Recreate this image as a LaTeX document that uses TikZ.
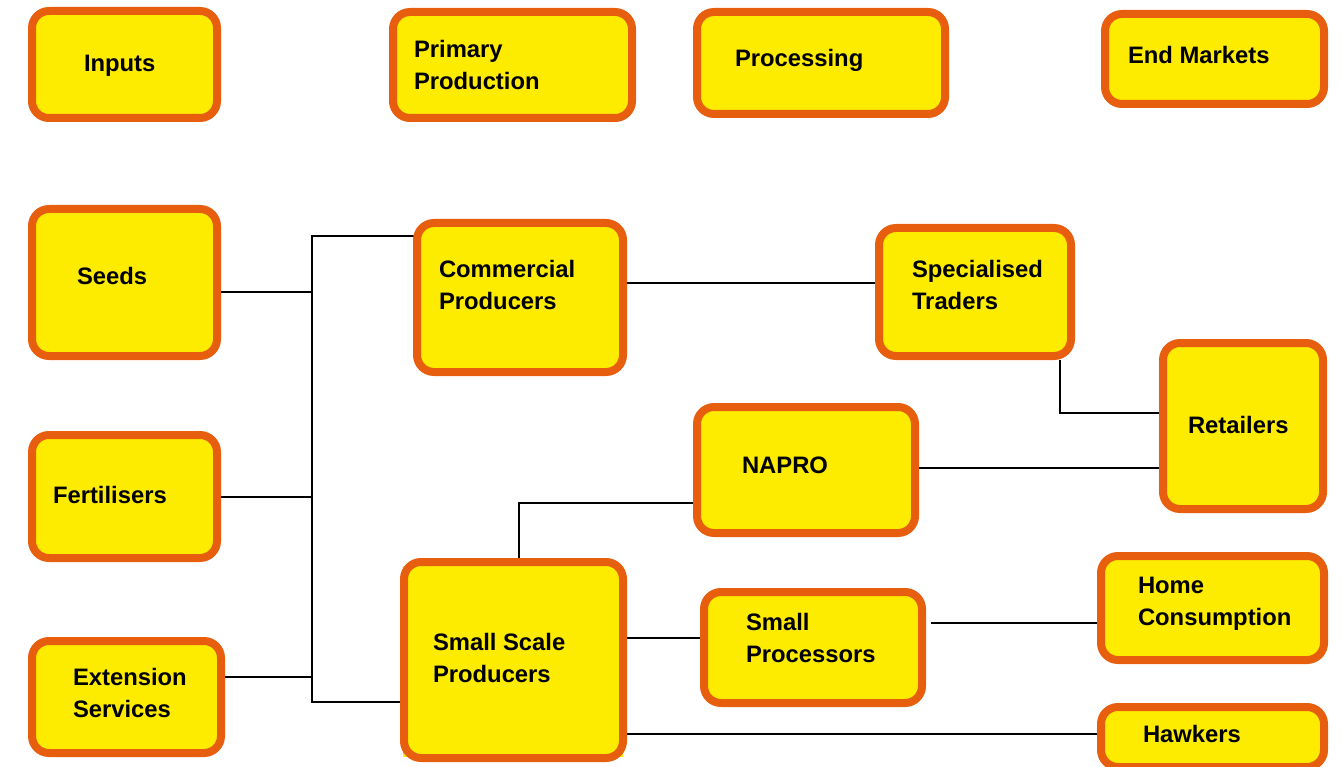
\documentclass[tikz,border=0pt]{standalone}
\usepackage{fontspec}
\setmainfont{Liberation Sans}
\usetikzlibrary{backgrounds}
\definecolor{boxfill}{RGB}{253,235,0}
\definecolor{boxline}{RGB}{232,94,15}
\begin{document}
\begin{tikzpicture}[x=1pt,y=-1pt,
  chainbox/.style={draw=boxline,fill=boxfill,line width=8pt,rounded corners=17pt,
    inner sep=0pt,outer sep=0pt},
  txt/.style={anchor=base west,inner sep=0pt,outer sep=0pt,
    font=\fontsize{23.8}{32}\selectfont\bfseries},
  link/.style={draw=black,line width=2.3pt}]
\useasboundingbox (0,0) rectangle (1341,767);

% stage headers
\node[chainbox,minimum width=185pt,minimum height=107pt] (inputs) at (124.5,64.5) {};
\node[chainbox,minimum width=239pt,minimum height=106pt] (primary) at (512.5,65) {};
\node[chainbox,minimum width=248pt,minimum height=102pt] (processing) at (821,63) {};
\node[chainbox,minimum width=219pt,minimum height=90pt] (endmk) at (1214.5,59) {};

% inputs column
\node[chainbox,minimum width=185pt,minimum height=147pt] (seeds) at (124.5,282.5) {};
\node[chainbox,minimum width=185pt,minimum height=123pt] (fert) at (124.5,496.5) {};
\node[chainbox,minimum width=189pt,minimum height=112pt] (ext) at (126.5,697) {};

% producers and downstream actors
\node[chainbox,minimum width=206pt,minimum height=149pt] (comm) at (520,297.5) {};
\node[chainbox,minimum width=192pt,minimum height=128pt] (spec) at (975,292) {};
\node[chainbox,minimum width=160pt,minimum height=166pt] (retail) at (1243,426) {};
\node[chainbox,minimum width=218pt,minimum height=126pt] (napro) at (806,470) {};
\node[chainbox,minimum width=219pt,minimum height=196pt] (ssp) at (513.5,660) {};
\node[chainbox,minimum width=218pt,minimum height=111pt] (sproc) at (813,647.5) {};
\node[chainbox,minimum width=223pt,minimum height=104pt] (home) at (1212.5,608) {};
\node[chainbox,minimum width=223pt,minimum height=60pt] (hawk) at (1212.5,737) {};

% labels
\node[txt] (inputs-t) at (84,72) {Inputs};
\node[txt] (primary-t) at (414,58) {\begin{tabular}[t]{@{}l@{}}Primary\\Production\end{tabular}};
\node[txt] (processing-t) at (735,67) {Processing};
\node[txt] (endmk-t) at (1128,64) {End Markets};
\node[txt] (seeds-t) at (77,285) {Seeds};
\node[txt] (fert-t) at (53,503) {Fertilisers};
\node[txt] (ext-t) at (73,685) {\begin{tabular}[t]{@{}l@{}}Extension\\Services\end{tabular}};
\node[txt] (comm-t) at (439,278) {\begin{tabular}[t]{@{}l@{}}Commercial\\Producers\end{tabular}};
\node[txt] (spec-t) at (912,278) {\begin{tabular}[t]{@{}l@{}}Specialised\\Traders\end{tabular}};
\node[txt] (retail-t) at (1188,433) {Retailers};
\node[txt] (napro-t) at (742,473) {NAPRO};
\node[txt] (ssp-t) at (433,650) {\begin{tabular}[t]{@{}l@{}}Small Scale\\Producers\end{tabular}};
\node[txt] (sproc-t) at (746,630) {\begin{tabular}[t]{@{}l@{}}Small\\Processors\end{tabular}};
\node[txt] (home-t) at (1138,593) {\begin{tabular}[t]{@{}l@{}}Home\\Consumption\end{tabular}};
\node[txt] (hawk-t) at (1143,742) {Hawkers};

% junction points of the connectors
\coordinate (jT) at (312,236);
\coordinate (jS) at (312,292);
\coordinate (jF) at (312,497);
\coordinate (jE) at (312,677);
\coordinate (jB) at (312,702);
\coordinate (cs) at (750,283);
\coordinate (kr) at (1060,413);
\coordinate (nr) at (1000,468);
\coordinate (kn) at (519,503);
\coordinate (sp) at (660,638);
\coordinate (ph) at (1000,623);
\coordinate (hk) at (900,734);

\begin{scope}[on background layer]
  % stray fill square behind the small scale producers box
  \fill[boxfill] (403,566) rectangle (623,757);
  % inputs feed into the producers
  \draw[link] (seeds.east |- jS) -- (jS);
  \draw[link] (fert.east |- jF) -- (jF);
  \draw[link] (ext.east |- jE) -- (jE);
  \draw[link] (jT -| comm.west) -- (jT) -- (jB) -- (jB -| ssp.west);
  % commercial channel
  \draw[link] (comm.east |- cs) -- (spec.west |- cs);
  \draw[link] ([yshift=-4pt]spec.south -| kr) -- (kr) -- (kr -| retail.west);
  % small scale channel
  \draw[link] (napro.east |- nr) -- (retail.west |- nr);
  \draw[link] (ssp.north -| kn) -- (kn) -- (kn -| napro.west);
  \draw[link] (ssp.east |- sp) -- (sproc.west |- sp);
  \draw[link,shorten <=9pt] (sproc.east |- ph) -- (home.west |- ph);
  \draw[link] (ssp.east |- hk) -- (hawk.west |- hk);
\end{scope}
\end{tikzpicture}
\end{document}
